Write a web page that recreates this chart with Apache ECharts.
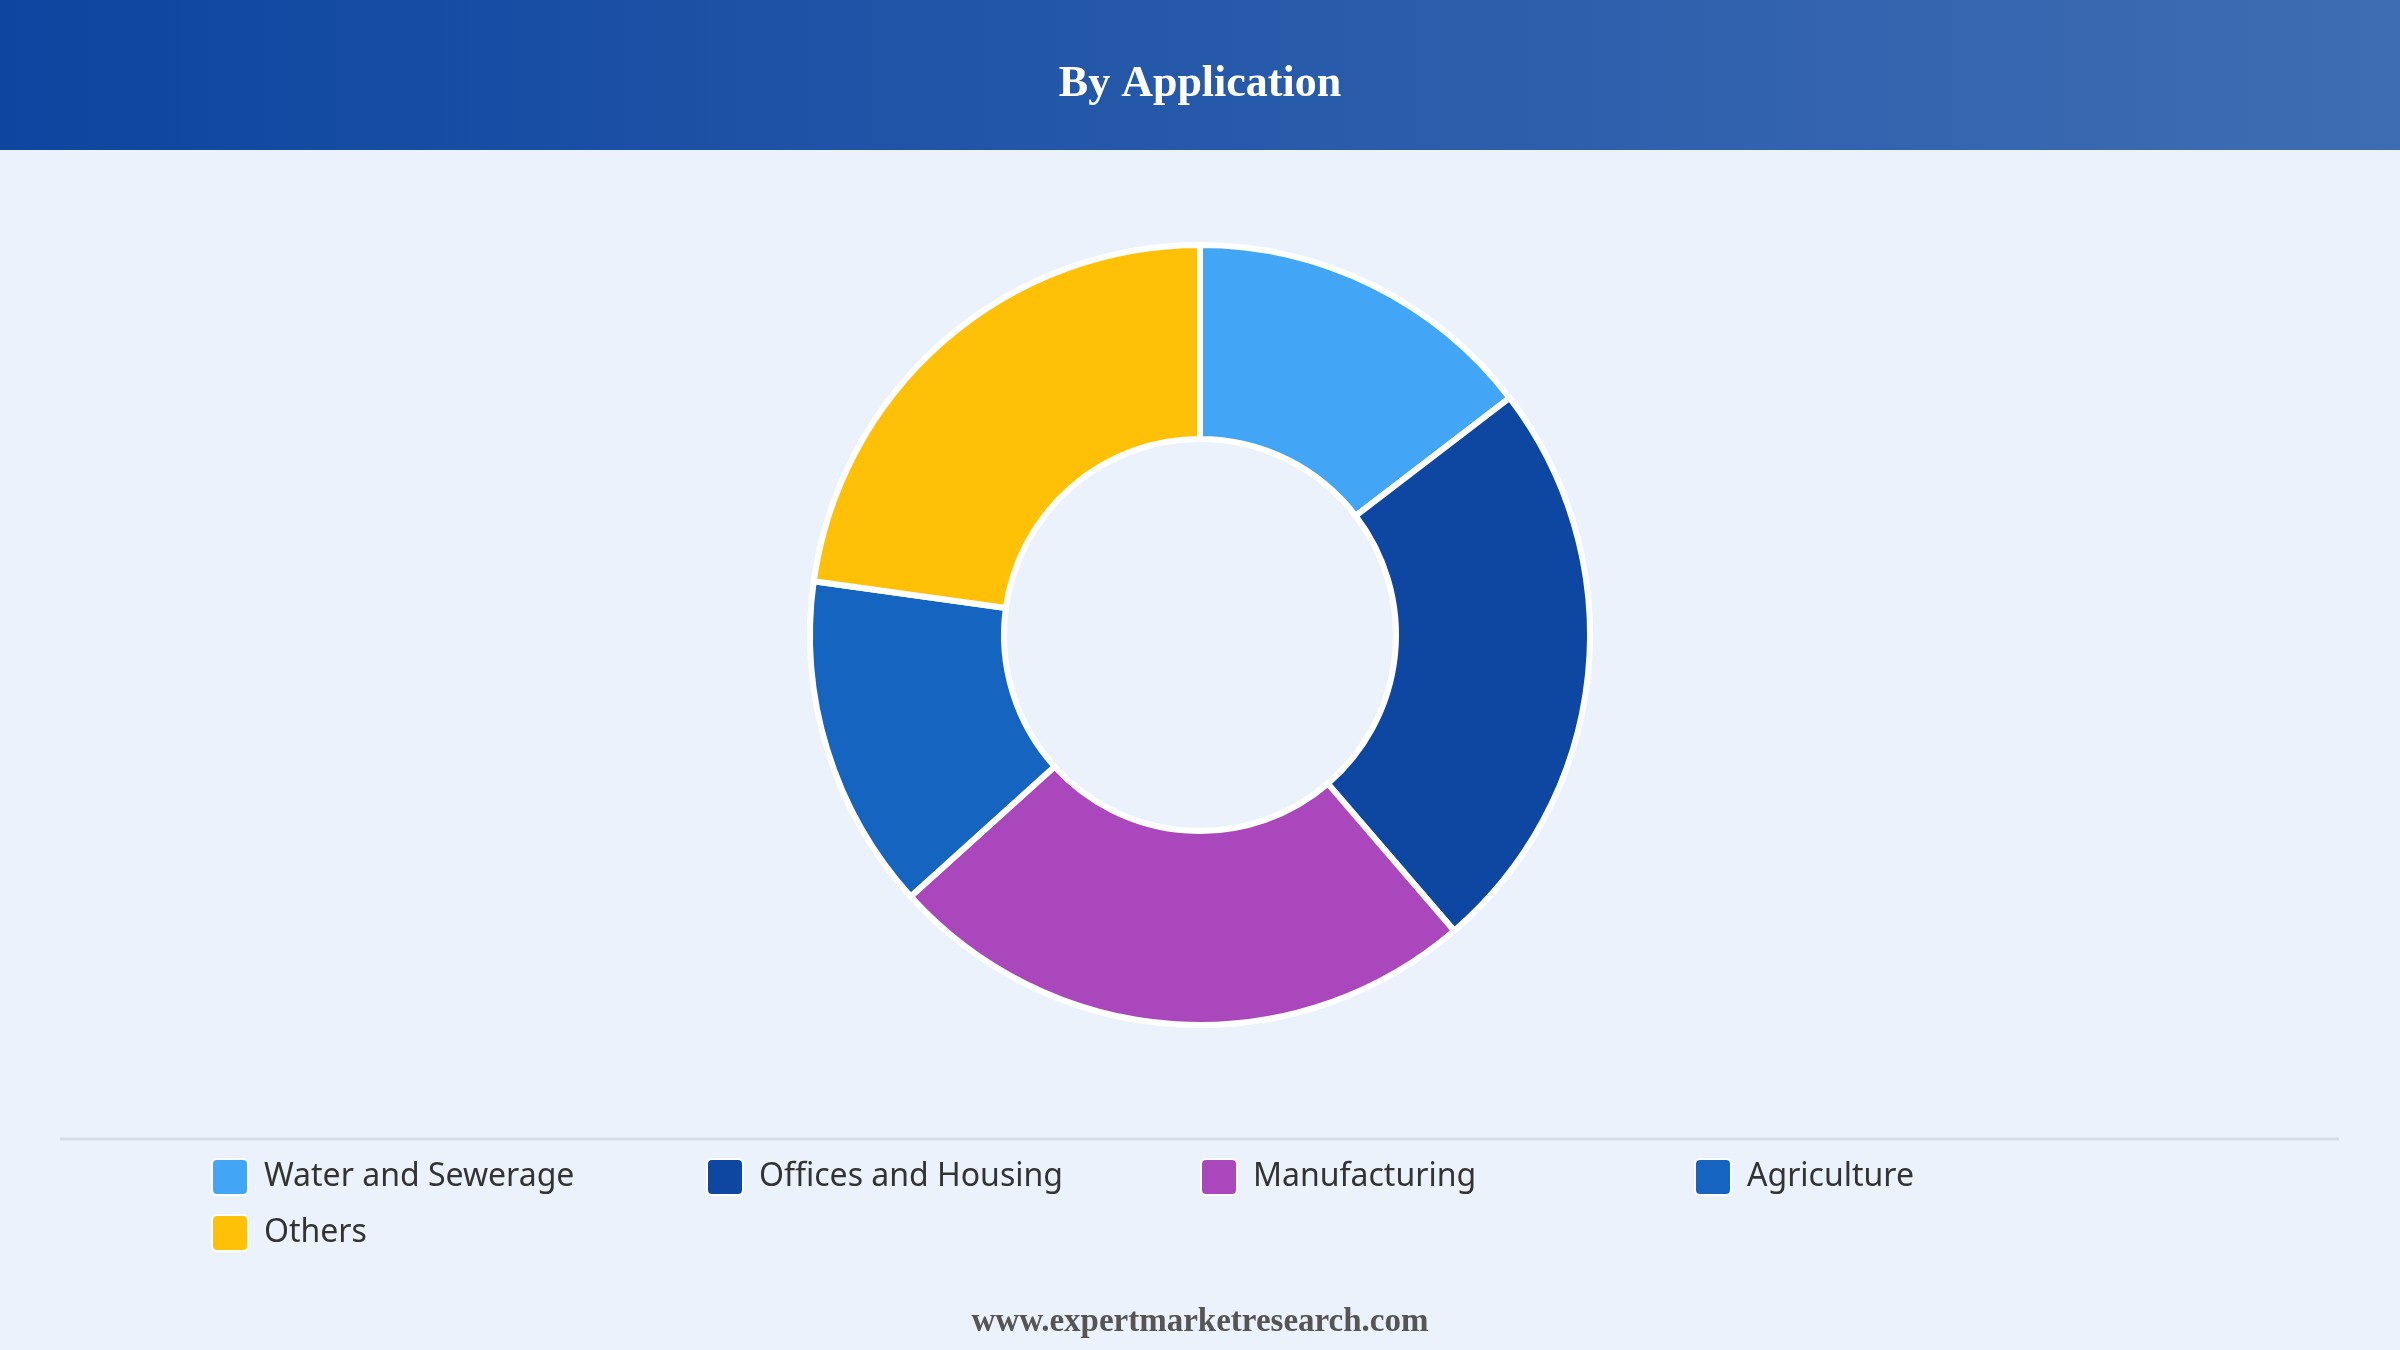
<!DOCTYPE html>
<html>
<head>
<meta charset="utf-8">
<title>By Application</title>
<script src="https://cdn.jsdelivr.net/npm/echarts@6/dist/echarts.min.js"></script>
<style>
    html, body { margin: 0; padding: 0; background: #ebf2fc; }
    #chart { width: 2400px; height: 1350px; }
</style>
</head>
<body>
<div id="chart"></div>
<script>
// data (share in %)
const categories = ['Water and Sewerage', 'Offices and Housing', 'Manufacturing', 'Agriculture', 'Others'];
const shares = [14.6, 24.1, 24.6, 13.9, 22.8];
const colors = ['#42a5f5', '#0d47a1', '#ab47bc', '#1565c0', '#ffc107'];

// legend columns, like the reference grid
const legend_columns = [
    ['Water and Sewerage', 'Others'],
    ['Offices and Housing'],
    ['Manufacturing'],
    ['Agriculture']
];
const column_left = [206, 701, 1195, 1689];

const icon_path = 'path://M5,0H31A5,5,0,0,1,36,5V31A5,5,0,0,1,31,36H5A5,5,0,0,1,0,31V5A5,5,0,0,1,5,0Z';

let chart = echarts.init(document.getElementById('chart'));

let legends = legend_columns.map(function (names, i) {
    return {
        orient: 'vertical',
        left: column_left[i],
        top: 1153,
        data: names,
        icon: icon_path,
        itemWidth: 36,
        itemHeight: 36,
        itemGap: 18,
        selectedMode: false,
        textStyle: {
            fontFamily: 'Noto Sans',
            fontSize: 32,
            color: '#333',
            padding: [0, 0, 0, 11]
        }
    };
});

let options = {
    backgroundColor: '#ebf2fc',
    color: colors,
    animation: false,
    title: [
        {
            text: 'By Application',
            left: 'center',
            top: 58,
            textStyle: {
                fontFamily: 'Liberation Serif',
                fontWeight: 'bold',
                fontSize: 44,
                color: '#ffffff'
            }
        },
        {
            text: 'www.expertmarketresearch.com',
            left: 'center',
            top: 1301,
            textStyle: {
                fontFamily: 'Liberation Serif',
                fontWeight: 'bold',
                fontSize: 33,
                color: '#555555'
            }
        }
    ],
    graphic: [
        {
            type: 'rect',
            z: -1,
            shape: { x: 0, y: 0, width: 2400, height: 150 },
            style: {
                fill: new echarts.graphic.LinearGradient(0, 0, 1, 0, [
                    { offset: 0, color: '#0d45a0' },
                    { offset: 1, color: '#3f6db3' }
                ])
            }
        },
        {
            type: 'line',
            shape: { x1: 60, y1: 1139, x2: 2339, y2: 1139 },
            style: { stroke: '#d8dde5', lineWidth: 3 }
        }
    ],
    legend: legends,
    series: [
        {
            type: 'pie',
            center: [1200, 635],
            radius: [196, 390],
            startAngle: 90,
            clockwise: true,
            label: { show: false },
            labelLine: { show: false },
            emphasis: { disabled: true },
            itemStyle: {
                borderColor: '#ffffff',
                borderWidth: 6
            },
            data: categories.map(function (name, i) {
                return { name: name, value: shares[i] };
            })
        }
    ]
};

chart.setOption(options);
</script>
</body>
</html>
